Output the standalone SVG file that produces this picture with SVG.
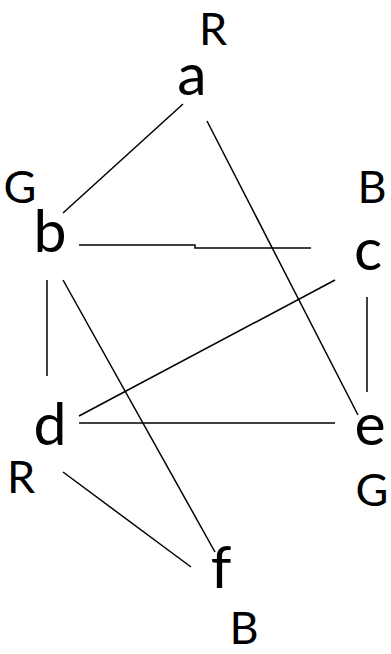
<svg xmlns="http://www.w3.org/2000/svg" width="391" height="654" viewBox="0 0 391 654">
<style>
.n{font-family:Lato,"Open Sans","Liberation Sans",sans-serif;font-size:59px;fill:#000;text-anchor:middle}
.c{font-family:Lato,"Open Sans","Liberation Sans",sans-serif;font-size:45px;fill:#000;text-anchor:middle}
.e{stroke:#000;stroke-width:1.5;fill:none}
</style>
<rect width="391" height="654" fill="#fff"/>
<g id="edges">
<line class="e" x1="183" y1="104" x2="63" y2="213"/>
<line class="e" x1="207" y1="121" x2="358" y2="415"/>
<polyline class="e" points="79,245 195,245 195,248 311,248"/>
<line class="e" x1="47" y1="280" x2="47" y2="376"/>
<line class="e" x1="63" y1="280" x2="215" y2="552"/>
<line class="e" x1="335" y1="280" x2="79" y2="416"/>
<line class="e" x1="367" y1="297" x2="367" y2="392"/>
<line class="e" x1="79" y1="423" x2="335" y2="423"/>
<line class="e" x1="63" y1="472" x2="191" y2="567"/>
</g>
<g id="node-a"><text class="n" x="192" y="95">a</text><text class="c" x="213" y="45">R</text></g>
<g id="node-b"><text class="n" x="50" y="252">b</text><text class="c" x="20" y="203">G</text></g>
<g id="node-c"><text class="n" x="368" y="270">c</text><text class="c" x="372" y="203">B</text></g>
<g id="node-d"><text class="n" x="50" y="445">d</text><text class="c" x="21" y="493">R</text></g>
<g id="node-e"><text class="n" x="370" y="445">e</text><text class="c" x="372" y="506">G</text></g>
<g id="node-f"><text class="n" x="221" y="588">f</text><text class="c" x="244" y="644">B</text></g>
</svg>
